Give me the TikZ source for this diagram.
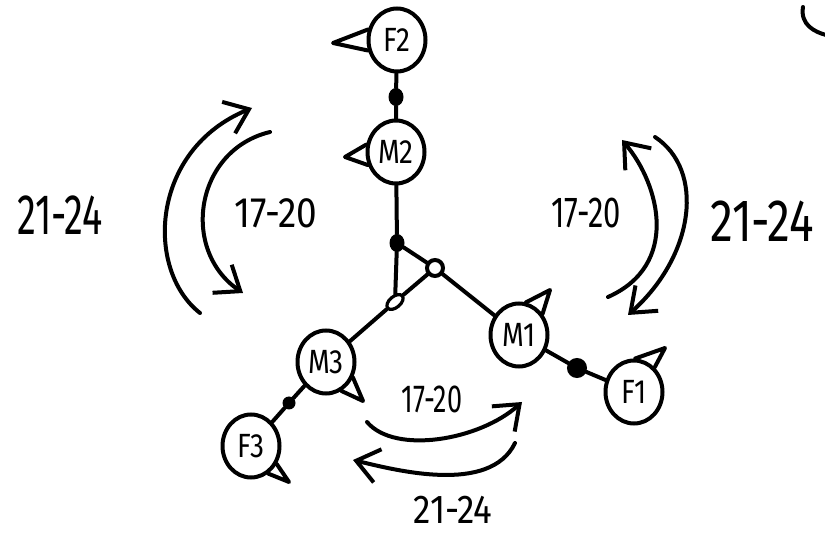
\documentclass[tikz,border=0pt]{standalone}
\usepackage{fontspec}
\setmainfont{Fira Sans}
\usetikzlibrary{shapes.geometric,arrows.meta}
\begin{document}
\begin{tikzpicture}[x=1pt,y=-1pt,
  ink/.style={line width=4pt, line cap=round, line join=round},
  person/.style={ellipse, draw, line width=4pt, minimum width=57pt, minimum height=63pt, inner sep=0pt, font=\fontsize{28}{28}\selectfont},
  bigdot/.style={ellipse, fill, minimum width=15pt, minimum height=18pt, inner sep=0pt},
  smalldot/.style={circle, fill, minimum size=13pt, inner sep=0pt},
  ringdot/.style={circle, draw, line width=4pt, minimum size=16pt, inner sep=0pt},
  flatring/.style={ellipse, draw, line width=3.2pt, minimum width=19pt, minimum height=11pt, inner sep=0pt, rotate=40},
  turn/.style={ink, -{Straight Barb[length=22pt, width=34pt, line width=4pt]}},
  lbl/.style={inner sep=0pt}
]
\useasboundingbox (0,0) rectangle (825,534);

% persons
\node[person] (F2) at (397,40) {\scalebox{1}[1.2]{F2}};
\node[person] (M2) at (396,152) {\scalebox{1}[1.2]{M2}};
\node[person] (M1) at (519,335) {\scalebox{1}[1.2]{M1}};
\node[person] (F1) at (634,392) {\scalebox{1}[1.2]{F1}};
\node[person] (M3) at (326,362) {\scalebox{1}[1.2]{M3}};
\node[person] (F3) at (251,446) {\scalebox{1}[1.2]{F3}};

% small joints
\node[bigdot] (dF2) at (396,97) {};
\node[bigdot] (j1) at (397,243) {};
\node[ringdot] (j2) at (435,268) {};
\node[flatring] (j3) at (395,302) {};
\node[ringdot, fill] (dF1) at (577,368) {};
\node[smalldot] (dF3) at (289,403) {};

% pointer tips
\coordinate (tF2) at (333,43);
\coordinate (tM2) at (345,157);
\coordinate (tM1) at (550,290);
\coordinate (tF1) at (665,348);
\coordinate (tM3) at (363,401);
\coordinate (tF3) at (289,482);

\draw[ink] (F2.160) -- (tF2) -- (F2.200);
\draw[ink] (M2.166) -- (tM2) -- (M2.205);
\draw[ink] (M1.78) -- (tM1) -- (M1.42);
\draw[ink] (F1.88) -- (tF1) -- (F1.50);
\draw[ink] (M3.-30) -- (tM3) -- (M3.-62);
\draw[ink] (F3.-35) -- (tF3) -- (F3.-58);

% connectors
\draw[ink] (F2) -- (dF2) -- (M2);
\draw[ink] (M2) -- (j1);
\draw[ink] (j1) -- (j2);
\draw[ink] (j1) -- (j3);
\draw[ink] (j2) -- (j3);
\draw[ink] (j3) -- (M3);
\draw[ink] (j2) -- (M1);
\draw[ink] (M1) -- (dF1) -- (F1);
\draw[ink] (M3) -- (dF3) -- (F3);

% rotation arrows, left
\coordinate (la1) at (200,313); \coordinate (la2) at (252,108);
\coordinate (lb1) at (270,132); \coordinate (lb2) at (243,293);
\draw[turn] (la1) .. controls (145,270) and (150,150) .. (la2);
\draw[turn] (lb1) .. controls (195,150) and (180,250) .. (lb2);
% right
\coordinate (ra1) at (608,297); \coordinate (ra2) at (622,140);
\coordinate (rb1) at (655,137); \coordinate (rb2) at (628,315);
\draw[turn] (ra1) .. controls (680,265) and (660,185) .. (ra2);
\draw[turn] (rb1) .. controls (705,170) and (695,255) .. (rb2);
% bottom
\coordinate (ba1) at (367,422); \coordinate (ba2) at (522,402);
\coordinate (bb1) at (515,443); \coordinate (bb2) at (353,460);
\draw[turn] (ba1) .. controls (395,455) and (480,440) .. (ba2);
\draw[turn] (bb1) .. controls (490,495) and (395,470) .. (bb2);

% stray mark top right
\coordinate (s1) at (803,7); \coordinate (s2) at (826,35);
\draw[ink] (s1) .. controls (800,25) and (815,32) .. (s2);

% labels
\node[lbl, font=\fontsize{38}{38}\selectfont] (L1) at (60,215) {\scalebox{1}[1.5]{21-24}};
\node[lbl, font=\fontsize{37}{37}\selectfont] (L2) at (276,213) {\scalebox{1}[1.15]{17-20}};
\node[lbl, font=\fontsize{31}{31}\selectfont] (L3) at (586,213) {\scalebox{1}[1.4]{17-20}};
\node[lbl, font=\fontsize{46}{46}\selectfont] (L4) at (762,221) {\scalebox{1}[1.3]{21-24}};
\node[lbl, font=\fontsize{27}{27}\selectfont] (L5) at (432,399) {\scalebox{1}[1.45]{17-20}};
\node[lbl, font=\fontsize{35}{35}\selectfont] (L6) at (453,510) {\scalebox{1}[1.15]{21-24}};
\end{tikzpicture}
\end{document}
